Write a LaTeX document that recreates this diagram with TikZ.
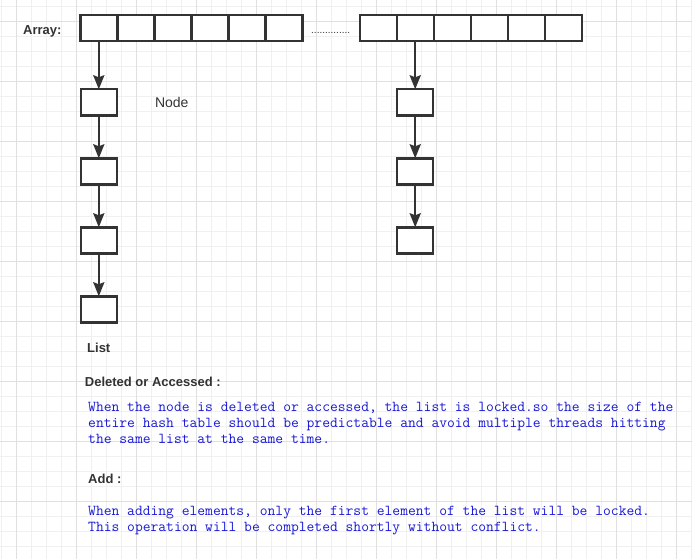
\documentclass[tikz,border=0pt]{standalone}
\usepackage{fontspec}
\setmainfont{Liberation Sans}
\usetikzlibrary{arrows.meta, positioning}

\definecolor{ink}{RGB}{51,51,51}
\definecolor{note}{RGB}{24,24,214}
\definecolor{gridminor}{RGB}{240,240,240}
\definecolor{gridmajor}{RGB}{224,224,224}

\begin{document}
\begin{tikzpicture}[
    x=1pt, y=-1pt,
    >={Stealth[length=14pt, width=11pt, inset=2pt]},
    node distance=43pt,
    cell/.style={draw=ink, line width=2.4pt, fill=white, outer sep=0pt,
                 inner sep=0pt, minimum width=37pt, minimum height=26pt},
    item/.style={cell, minimum width=36pt},
    link/.style={->, draw=ink, line width=2.4pt},
    heading/.style={font=\fontsize{13}{16}\selectfont\bfseries, text=ink,
                    inner sep=0pt, anchor=base west},
    remark/.style={font=\fontsize{15.15}{16}\selectfont\ttfamily, text=note,
                   align=left, inner sep=0pt, anchor=base west}
  ]
    \useasboundingbox (0,0) rectangle (692,559);
    \fill[white] (0,0) rectangle (692,559);

    % background grid
    \foreach \k in {0,...,46}
      \draw[gridminor, line width=1pt] (1.7+15*\k,0) -- (1.7+15*\k,559);
    \foreach \k in {0,...,36}
      \draw[gridminor, line width=1pt] (0,6.7+15*\k) -- (692,6.7+15*\k);
    \foreach \k in {0,...,11}
      \draw[gridmajor, line width=1pt] (16.7+60*\k,0) -- (16.7+60*\k,559);
    \foreach \k in {0,...,8}
      \draw[gridmajor, line width=1pt] (0,21.7+60*\k) -- (692,21.7+60*\k);

    % the two array segments
    \node[cell] (a1) at (98.8,28.3) {};
    \foreach \i [count=\j from 2] in {1,...,5}
      \node[cell, right=0pt of a\i] (a\j) {};
    \node[cell] (b1) at (378.2,28.3) {};
    \foreach \i [count=\j from 2] in {1,...,5}
      \node[cell, right=0pt of b\i] (b\j) {};

    \node[heading] (arraylbl) at (23,35) {Array:};
    \node[font=\fontsize{10}{12}\selectfont, text=ink, inner sep=0pt,
          anchor=base west] (gap) at (311,34) {..............};

    % buckets
    \node[item, below=48pt of a1] (p1) {};
    \node[item, below=of p1]      (p2) {};
    \node[item, below=of p2]      (p3) {};
    \node[item, below=of p3]      (p4) {};

    \node[item, below=48pt of b2] (q1) {};
    \node[item, below=of q1]      (q2) {};
    \node[item, below=of q2]      (q3) {};

    \draw[link] (a1) -- (p1);
    \draw[link] (p1) -- (p2);
    \draw[link] (p2) -- (p3);
    \draw[link] (p3) -- (p4);
    \draw[link] (b2) -- (q1);
    \draw[link] (q1) -- (q2);
    \draw[link] (q2) -- (q3);

    \node[font=\fontsize{14}{16}\selectfont, text=ink, inner sep=0pt,
          right=38pt of p1] (nodelbl) {Node};

    % notes (base = last line)
    \node[heading] (listlbl) at (87,352)   {List};
    \node[heading] (dellbl)  at (84.7,386) {Deleted or Accessed :};
    \node[remark]  (deltxt)  at (88,443)
      {When the node is deleted or accessed, the list is locked.so the size of the\\
       entire hash table should be predictable and avoid multiple threads hitting\\
       the same list at the same time.};
    \node[heading] (addlbl)  at (88,483)   {Add :};
    \node[remark]  (addtxt)  at (88,531)
      {When adding elements, only the first element of the list will be locked.\\
       This operation will be completed shortly without conflict.};
  \end{tikzpicture}
\end{document}
